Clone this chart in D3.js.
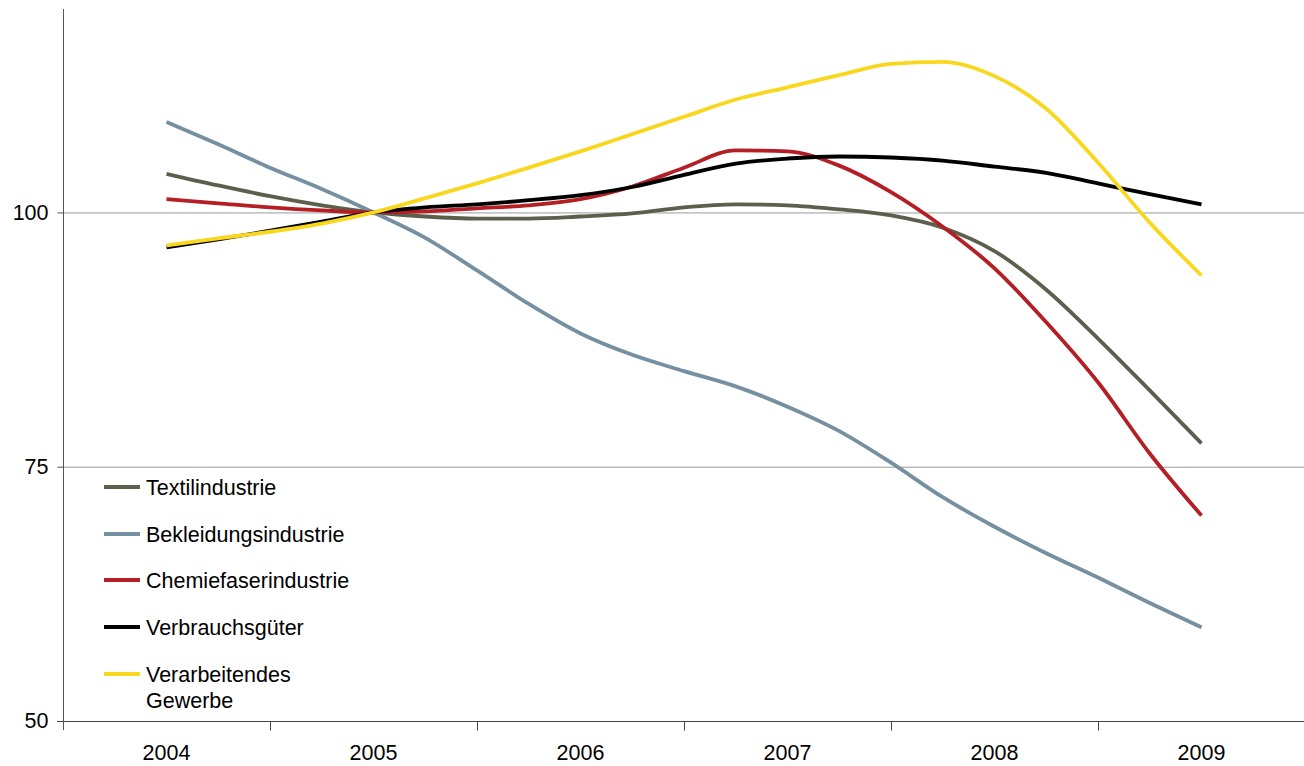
<!DOCTYPE html>
<html><head><meta charset="utf-8">
<script src="https://cdn.jsdelivr.net/npm/d3@7"></script>
<style>body{margin:0;background:#fff}svg{display:block}text{font-family:"Liberation Sans",Arial,sans-serif}</style>
</head><body>
<svg id="c" width="1304" height="766"></svg>
<script>
const years = ["2004","2005","2006","2007","2008","2009"];
const t = [2004,2004.25,2004.5,2004.75,2005,2005.25,2005.5,2005.75,2006,2006.25,2006.5,2006.75,2007,2007.25,2007.5,2007.75,2008,2008.25,2008.5,2008.75,2009];
const yTicks = [50,75,100];
const seriesNames = ["Textilindustrie","Bekleidungsindustrie","Chemiefaserindustrie","Verbrauchsgüter","Verarbeitendes Gewerbe"];
const textil = [103.8,102.65,101.6,100.7,100,99.6,99.4,99.4,99.6,99.9,100.5,100.8,100.7,100.3,99.7,98.5,96.2,92.4,87.6,82.5,77.3];
const bekleidung = [108.9,106.7,104.4,102.3,100,97.5,94.3,91.0,88.1,86.0,84.4,82.9,80.9,78.5,75.4,72.0,69.1,66.5,64.1,61.6,59.2];
const chemie = [101.3,100.9,100.5,100.2,100,100.1,100.4,100.7,101.3,102.55,104.4,106.1,106.0,104.6,102.0,98.6,94.5,89.2,83.3,76.3,70.2];
const verbrauch = [96.56,97.35,98.2,99.1,100,100.5,100.8,101.2,101.7,102.5,103.7,104.8,105.3,105.5,105.4,105.1,104.5,103.9,102.85,101.8,100.8];
const gewerbe = [96.76,97.45,98.1,98.9,100,101.4,102.85,104.4,106.0,107.7,109.4,111.1,112.3,113.5,114.6,114.8,113.4,110.2,104.9,99.0,93.8];
const colors = ["#5d5f4d","#7590a0","#b41f26","#000000","#fad71f"];
const data = [textil,bekleidung,chemie,verbrauch,gewerbe];

const FS = 21.5;
const svg = d3.select("#c");
const x = d3.scaleLinear().domain([2003.5,2009.5]).range([63,1305]);
const y = d3.scaleLinear().domain([50,120]).range([721,9]);

// gridlines
svg.append("g").selectAll("line").data(yTicks.filter(v=>v>50)).join("line")
  .attr("x1",63).attr("x2",1304).attr("y1",d=>y(d)+0.5).attr("y2",d=>y(d)+0.5)
  .attr("stroke","#9a9a9a").attr("stroke-width",1);

// y axis
const ya = svg.append("g").attr("transform","translate(63.5,0)")
  .call(d3.axisLeft(y).tickValues(yTicks).tickSize(6).tickPadding(9));
ya.select(".domain").remove();
ya.append("line").attr("x1",0).attr("x2",0).attr("y1",9).attr("y2",730).attr("stroke","#555").attr("stroke-width",1);
ya.selectAll(".tick line").attr("stroke","#555");
ya.selectAll(".tick text").attr("font-size",FS).attr("fill","#000").attr("font-family","Liberation Sans, Arial, sans-serif");

// x axis
const xb = d3.scaleBand().domain(years).range([63,1305]);
const xa = svg.append("g").attr("transform","translate(0,721.5)")
  .call(d3.axisBottom(xb).tickSize(0).tickPadding(23));
xa.select(".domain").remove();
xa.append("line").attr("x1",57).attr("x2",1304).attr("stroke","#444").attr("stroke-width",1);
xa.selectAll(".tbound").data(years.slice(1)).join("line")
  .attr("x1",d=>Math.round(xb(d))+0.5).attr("x2",d=>Math.round(xb(d))+0.5).attr("y1",0).attr("y2",9)
  .attr("stroke","#444");
xa.selectAll(".tick text").attr("font-size",FS).attr("fill","#000").attr("font-family","Liberation Sans, Arial, sans-serif");

// lines
const line = d3.line().x((d,i)=>x(t[i])).y(d=>y(d)).curve(d3.curveMonotoneX);
svg.append("g").selectAll("path").data(data).join("path")
  .attr("d",line).attr("fill","none").attr("stroke",(d,i)=>colors[i])
  .attr("stroke-width",3.8).attr("stroke-linejoin","round");

// legend
const ly = [487,534,580,627,674];
const lg = svg.append("g");
seriesNames.forEach((n,i)=>{
  lg.append("line").attr("x1",104).attr("x2",140).attr("y1",ly[i]).attr("y2",ly[i])
    .attr("stroke",colors[i]).attr("stroke-width",3.8);
  const parts = n==="Verarbeitendes Gewerbe" ? ["Verarbeitendes","Gewerbe"] : [n];
  const tx = lg.append("text").attr("x",146).attr("y",ly[i]+7.5).attr("font-size",FS).attr("fill","#000");
  parts.forEach((p,j)=>tx.append("tspan").attr("x",146).attr("dy",j?26:0).text(p));
});
</script>
</body></html>
